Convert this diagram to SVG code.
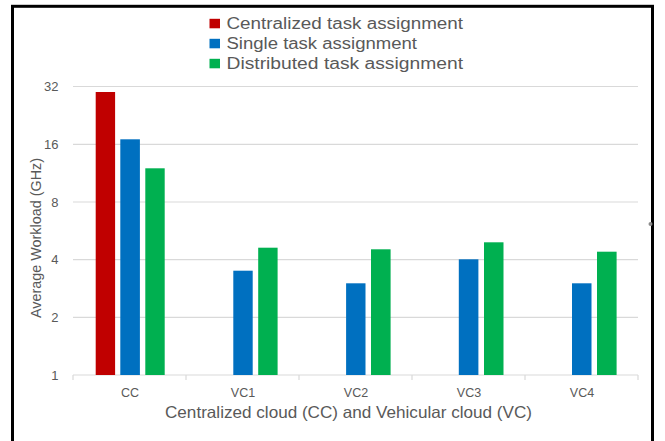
<svg xmlns="http://www.w3.org/2000/svg" width="665" height="441" viewBox="0 0 665 441">
<style>
.t{font-family:"Liberation Sans",Arial,sans-serif;fill:#595959}
.grid{stroke:#D9D9D9;stroke-width:1.2;fill:none}
.r{fill:#C00000}
.b{fill:#0070C0}
.g{fill:#00B050}
</style>
<rect x="0" y="0" width="665" height="441" fill="#fff"/>
<rect x="12.5" y="6.3" width="640" height="460" fill="#fff" stroke="#000" stroke-width="3"/>
<circle cx="650.5" cy="224" r="2" fill="#8c8c8c"/>
<g id="gridlines" class="grid">
<line x1="73" y1="86.5" x2="638" y2="86.5"/>
<line x1="73" y1="144.3" x2="638" y2="144.3"/>
<line x1="73" y1="202" x2="638" y2="202"/>
<line x1="73" y1="259.7" x2="638" y2="259.7"/>
<line x1="73" y1="317.3" x2="638" y2="317.3"/>
<line x1="73" y1="375" x2="638" y2="375"/>
<path d="M73 375v5M186 375v5M299 375v5M412 375v5M525 375v5M638 375v5"/>
</g>
<g id="yticks" class="t" font-size="13" text-anchor="end">
<text x="58.5" y="91">32</text>
<text x="58.5" y="149">16</text>
<text x="58.5" y="206.5">8</text>
<text x="58.5" y="264.2">4</text>
<text x="58.5" y="321.8">2</text>
<text x="58.5" y="379.5">1</text>
</g>
<g id="bars">
<g id="CC">
<rect class="r" x="95.7" y="92" width="19.4" height="283"/>
<rect class="b" x="120.3" y="139.3" width="19.6" height="235.7"/>
<rect class="g" x="145.3" y="168.3" width="19.4" height="206.7"/>
</g>
<g id="VC1">
<rect class="b" x="233.3" y="270.7" width="19.4" height="104.3"/>
<rect class="g" x="258.2" y="247.7" width="19.4" height="127.3"/>
</g>
<g id="VC2">
<rect class="b" x="346.1" y="283.3" width="19.4" height="91.7"/>
<rect class="g" x="371" y="249.3" width="19.6" height="125.7"/>
</g>
<g id="VC3">
<rect class="b" x="458.8" y="259.3" width="19.6" height="115.7"/>
<rect class="g" x="484" y="242.3" width="19.5" height="132.7"/>
</g>
<g id="VC4">
<rect class="b" x="572" y="283.3" width="19.5" height="91.7"/>
<rect class="g" x="597" y="251.7" width="19.6" height="123.3"/>
</g>
</g>
<g id="xlabels" class="t" font-size="12.5" text-anchor="middle">
<text x="130" y="397">CC</text>
<text x="243" y="397">VC1</text>
<text x="356" y="397">VC2</text>
<text x="469" y="397">VC3</text>
<text x="582" y="397">VC4</text>
</g>
<text id="xtitle" class="t" x="165" y="418" font-size="16.5" textLength="367" lengthAdjust="spacingAndGlyphs">Centralized cloud (CC) and Vehicular cloud (VC)</text>
<text id="ytitle" class="t" font-size="14" text-anchor="middle" transform="translate(40.5,238) rotate(-90)" textLength="160" lengthAdjust="spacingAndGlyphs">Average Workload (GHz)</text>
<g id="legend">
<rect class="r" x="209.5" y="18.8" width="10.5" height="9.5"/>
<rect class="b" x="209.5" y="38.8" width="10.5" height="9.5"/>
<rect class="g" x="209.5" y="58.8" width="10.5" height="9.5"/>
<g class="t" font-size="16">
<text x="226.5" y="28.5" textLength="236.5" lengthAdjust="spacingAndGlyphs">Centralized task assignment</text>
<text x="226.5" y="48.5" textLength="190.5" lengthAdjust="spacingAndGlyphs">Single task assignment</text>
<text x="226.5" y="68.5" textLength="236.5" lengthAdjust="spacingAndGlyphs">Distributed task assignment</text>
</g>
</g>
</svg>
